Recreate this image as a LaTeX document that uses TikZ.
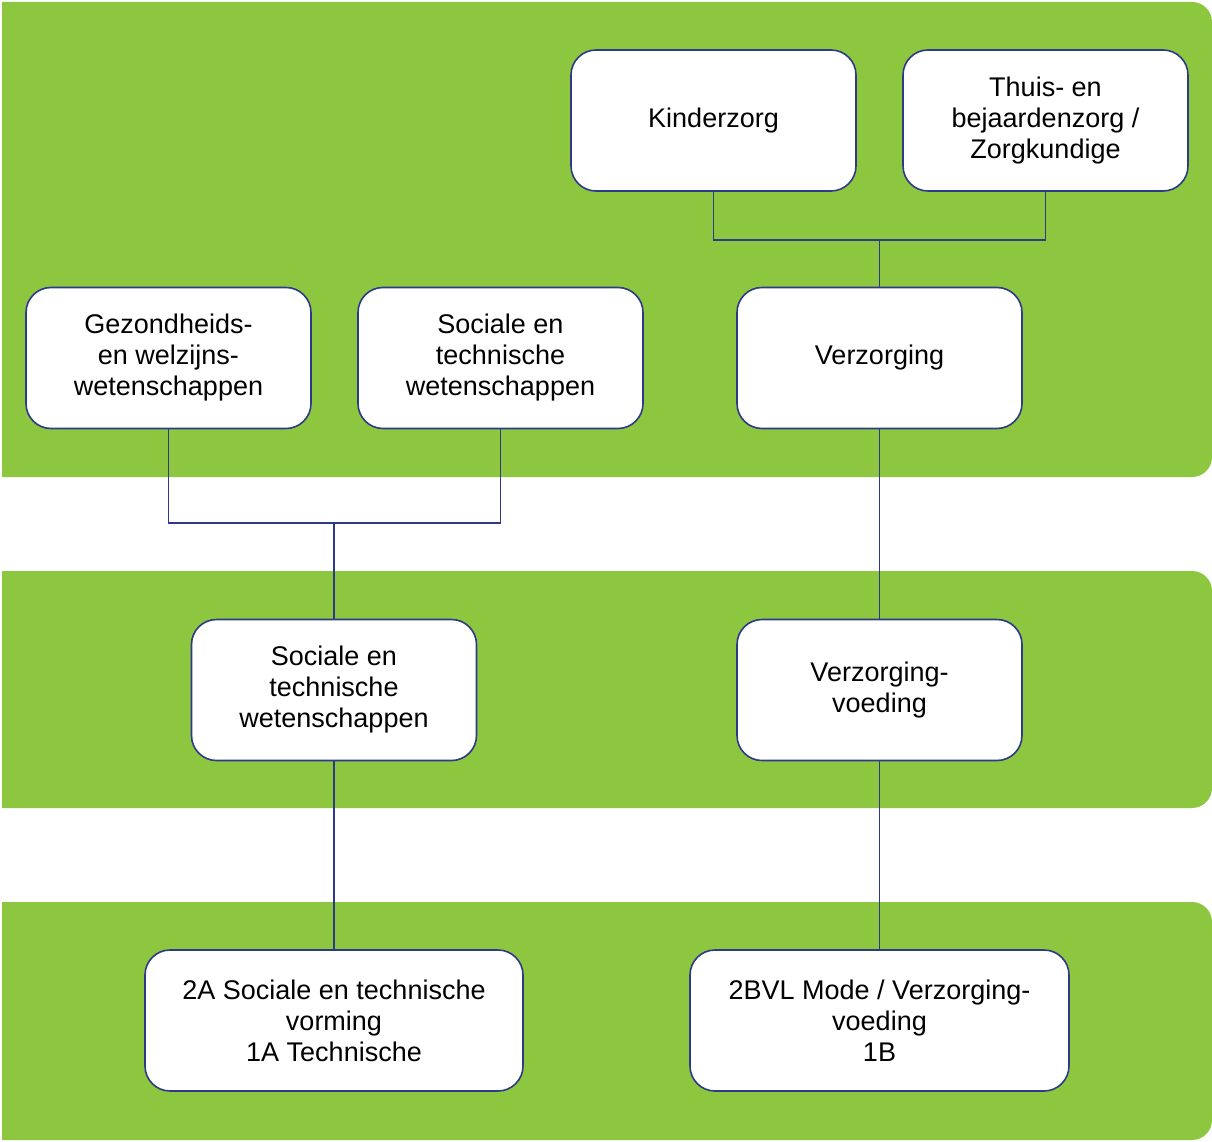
\documentclass[tikz,border=0pt]{standalone}
\usepackage{fontspec}
\setmainfont{Liberation Sans}
\definecolor{bandgreen}{HTML}{8DC63F}
\definecolor{navy}{HTML}{2E3A87}
\begin{document}
\begin{tikzpicture}[x=1pt,y=1pt,
  band/.style={fill=bandgreen},
  box/.style={draw=navy,line width=1.6pt,fill=white,rounded corners=25pt,
    minimum width=285pt,minimum height=141pt,align=center,inner sep=0pt,
    font=\fontsize{27}{31}\selectfont},
  conn/.style={draw=navy,line width=1.6pt}]
\useasboundingbox (0,0) rectangle (1212,-1142);
\fill[white] (0,0) rectangle (1212,-1142);
% bands
\fill[band] (2,-2) -- (1192,-2) arc[start angle=90,end angle=0,radius=20] -- (1212,-457) arc[start angle=0,end angle=-90,radius=20] -- (2,-477) -- cycle;
\fill[band] (2,-571) -- (1192,-571) arc[start angle=90,end angle=0,radius=20] -- (1212,-788) arc[start angle=0,end angle=-90,radius=20] -- (2,-808) -- cycle;
\fill[band] (2,-902) -- (1192,-902) arc[start angle=90,end angle=0,radius=20] -- (1212,-1120) arc[start angle=0,end angle=-90,radius=20] -- (2,-1140) -- cycle;
% nodes
\node[box] (kinder) at (713.5,-120.5) {Kinderzorg};
\node[box] (thuis) at (1045.5,-120.5) {Thuis- en\\bejaardenzorg /\\Zorgkundige};
\node[box] (gez) at (168.5,-358) {Gezondheids-\\en welzijns-\\wetenschappen};
\node[box] (soctop) at (500.5,-358) {Sociale en\\technische\\wetenschappen};
\node[box] (verz) at (879.5,-358) {Verzorging};
\node[box] (socmid) at (334,-690) {Sociale en\\technische\\wetenschappen};
\node[box] (vv) at (879.5,-690) {Verzorging-\\voeding};
\node[box,minimum width=378pt] (twoa) at (334,-1020.5) {2A Sociale en technische\\vorming\\1A Technische};
\node[box,minimum width=379pt] (twob) at (879.5,-1020.5) {2BVL Mode / Verzorging-\\voeding\\1B};
% junctions
\coordinate (j1) at (879.5,-240);
\coordinate (j2) at (334,-523);
% connectors
\draw[conn] (kinder.south) |- (j1) -| (thuis.south);
\draw[conn] (j1) -- (verz.north);
\draw[conn] (gez.south) |- (j2) -| (soctop.south);
\draw[conn] (j2) -- (socmid.north);
\draw[conn] (verz.south) -- (vv.north);
\draw[conn] (socmid.south) -- (twoa.north);
\draw[conn] (vv.south) -- (twob.north);
\end{tikzpicture}
\end{document}
